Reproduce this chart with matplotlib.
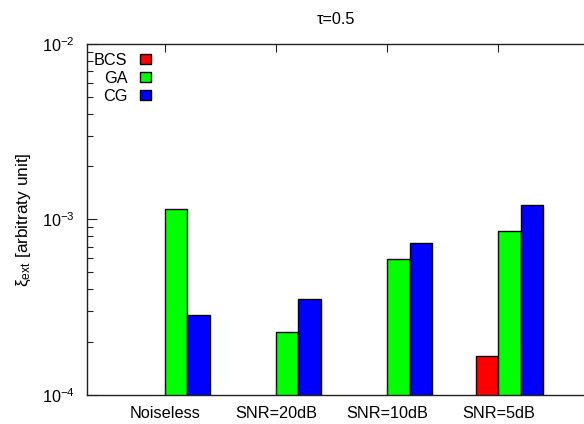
import numpy as np
import matplotlib
matplotlib.use("Agg")
import matplotlib.pyplot as plt
from matplotlib.patches import Patch

plt.rcParams['font.family'] = ['Liberation Sans', 'DejaVu Sans']
plt.rcParams['mathtext.fontset'] = 'custom'
plt.rcParams['mathtext.rm'] = 'Liberation Sans'
plt.rcParams['mathtext.it'] = 'Liberation Sans:italic'

categories = ["Noiseless", "SNR=20dB", "SNR=10dB", "SNR=5dB"]
series_names = ["BCS", "GA", "CG"]
bcs = [np.nan, np.nan, np.nan, 1.56e-4]
ga = [1.14e-3, 2.18e-4, 5.82e-4, 8.45e-4]
cg = [2.77e-4, 3.42e-4, 7.19e-4, 1.19e-3]
colors = ["#ff0000", "#00ff00", "#0000ff"]

fs = 11.7
fig = plt.figure(figsize=(5.84, 4.24), dpi=100)
ax = fig.add_axes([87.3 / 584, 1 - 395 / 424, (584 - 87.3) / 584, (395 - 43.7) / 424])

x = np.arange(len(categories))
w = 0.2
for j, (vals, c, name) in enumerate(zip([bcs, ga, cg], colors, series_names)):
    ax.bar(x + (j - 0.5) * w, vals, width=w, color=c, edgecolor="black",
           linewidth=1.0, label=name, bottom=1e-5)

ax.set_yscale("log")
ax.set_ylim(1e-4, 1e-2)
ax.set_xlim(-0.70, 3.77)
ax.set_xticks(x)
ax.set_xticklabels(categories, fontsize=fs)
ax.set_yticks([1e-4, 1e-3, 1e-2])
ax.set_yticklabels([r"$10^{-4}$", r"$10^{-3}$", r"$10^{-2}$"], fontsize=fs)
ax.tick_params(axis="both", which="both", direction="in", top=True, right=False,
               width=0.8, color="#222222")
ax.tick_params(axis="y", which="major", length=7, pad=9)
ax.tick_params(axis="y", which="minor", length=4)
ax.tick_params(axis="x", which="major", length=6, pad=8)
for side in ["left", "top", "bottom"]:
    ax.spines[side].set_linewidth(1.0)
    ax.spines[side].set_color("#222222")
ax.spines["right"].set_visible(False)

ax.set_title("τ=0.5", fontsize=fs, pad=14)
ax.set_ylabel(r"$\mathregular{ξ_{ext}}$ [arbitraty unit]", fontsize=12.4, labelpad=6)

handles = [Patch(facecolor=c, edgecolor="black", linewidth=1.0) for c in colors]
leg = ax.legend(handles, series_names, loc="upper left", frameon=False,
                markerfirst=False, fontsize=fs, handlelength=0.68, handleheight=0.55,
                handletextpad=0.75, labelspacing=0.2, borderpad=0.0,
                bbox_to_anchor=(-0.003, 0.998))
for t in leg.get_texts():
    t.set_ha("right")

fig.savefig("out.png", dpi=100)
